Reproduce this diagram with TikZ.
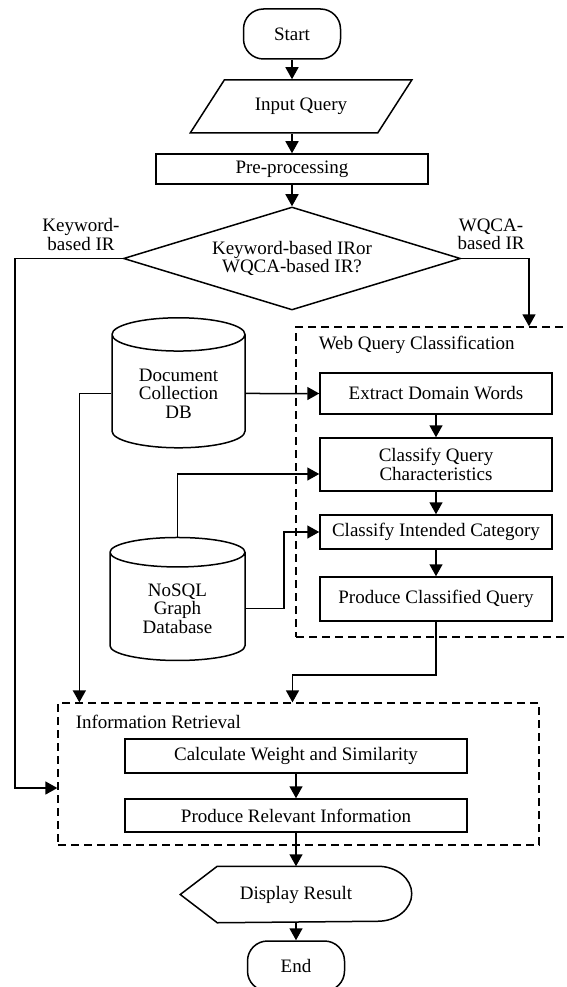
\documentclass[tikz,border=0pt]{standalone}
\usepackage{fontspec}
\setmainfont{Liberation Serif}
\usetikzlibrary{shapes.geometric,arrows.meta}

\begin{document}
\begin{tikzpicture}[x=1pt, y=-1pt, line width=1.5pt,
    >={Triangle[length=12pt,width=13pt]},
    every node/.style={font=\fontsize{19}{18.5}\selectfont, inner sep=2pt},
    terminal/.style={draw, rounded corners=20pt, minimum width=97pt, minimum height=50pt},
    process/.style={draw, align=center},
    database/.style={draw, cylinder, shape border rotate=90, aspect=0.4, align=center},
    groupbox/.style={draw, dash pattern=on 8pt off 5pt, line width=1.3pt}]
    \useasboundingbox (0,0) rectangle (566,987);

    % Groupes
    \node[groupbox, minimum width=284pt, minimum height=310pt] (wqc) at (438, 482) {};
    \node[anchor=west] (wqclabel) at (316, 345) {Web Query Classification};
    \node[groupbox, minimum width=481pt, minimum height=142pt] (ir) at (298.5, 774) {};
    \node[anchor=west] (irlabel) at (73, 722) {Information Retrieval};

    % Etapes
    \node[terminal] (start) at (292, 34) {Start};
    \node[draw, trapezium, trapezium left angle=44, trapezium right angle=136, trapezium stretches=true, minimum width=222pt, minimum height=53pt] (input) at (301, 106.5) {Input Query};
    \node[process, minimum width=272pt, minimum height=30pt] (pre) at (292, 169) {Pre-processing};
    \node[draw, diamond, aspect=3, align=center, minimum width=337pt, minimum height=103pt] (choice) at (292, 258.5) {Keyword-based IRor\\WQCA-based IR?};
    \node[align=center] (kwlabel) at (81, 234.5) {Keyword-\\based IR};
    \node[align=center] (wqlabel) at (491, 234.5) {WQCA-\\based IR};

    % Classification
    \node[process, minimum width=232pt, minimum height=41pt] (extract) at (436, 393.5) {Extract Domain Words};
    \node[process, minimum width=232pt, minimum height=53pt] (classq) at (436, 464.5) {Classify Query\\Characteristics};
    \node[process, minimum width=232pt, minimum height=34pt] (intended) at (436, 532) {Classify Intended Category};
    \node[process, minimum width=232pt, minimum height=44pt] (prodcq) at (436, 599) {Produce Classified Query};

    % Bases
    \node[database, minimum width=133pt, minimum height=130pt] (docdb) at (178.5, 393.5) {Document\\Collection\\DB};
    \node[database, minimum width=135pt, minimum height=123pt] (nosql) at (177.5, 608.5) {NoSQL\\Graph\\Database};

    % Recherche
    \node[process, minimum width=342pt, minimum height=34pt] (calc) at (296, 756) {Calculate Weight and Similarity};
    \node[process, minimum width=342pt, minimum height=33pt] (prodri) at (296, 815.5) {Produce Relevant Information};
    \node[minimum width=230pt, minimum height=55pt] (disp) at (296, 894.5) {Display Result};
    \draw (disp.west) -- ([xshift=37pt]disp.north west) -- ([xshift=-34pt]disp.north east)
        arc[start angle=90, end angle=-90, x radius=34pt, y radius=27.5pt]
        -- ([xshift=37pt]disp.south west) -- cycle;
    \node[terminal] (stop) at (296, 966) {End};

    % Liens
    \draw[->] (start) -- (start |- input.north);
    \draw[->] (input.south -| pre) -- (pre);
    \draw[->] (pre) -- (choice);
    \draw[->] (choice.west) -- ++(-108,0) |- ([yshift=-14pt]ir.west);
    \draw[->] (choice.east) -| ([xshift=91pt]wqc.north);
    \draw[->] (docdb) -- (extract);
    \draw[->] (docdb.west) -| ([xshift=22pt]ir.north west);
    \draw[->] (extract) -- (classq);
    \draw[->] (classq) -- (intended);
    \draw[->] (intended) -- (prodcq);
    \draw[->] (nosql.north) |- ([yshift=-9.5pt]classq.west);
    \draw[->] (nosql.east) -- ++(38,0) |- (intended.west);
    \draw[->] (prodcq) -- ++(0,76) -| ([xshift=-6pt]ir.north);
    \draw[->] (calc) -- (prodri);
    \draw[->] (prodri) -- (disp);
    \draw[->] (disp) -- (stop);
\end{tikzpicture}
\end{document}
